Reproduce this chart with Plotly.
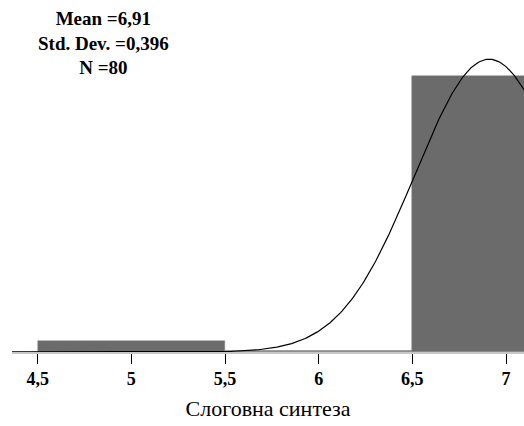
import numpy as np
import plotly.graph_objects as go

# Data
bin_starts = [4.5, 5.5, 6.5]
bin_width = 1.0
counts = [3, 0, 76]
mean_val = 6.91
std_val = 0.396
n_val = 80
tick_vals = [4.5, 5, 5.5, 6, 6.5, 7]
tick_text = ["4,5", "5", "5,5", "6", "6,5", "7"]
x_title = "Слоговна синтеза"

BAR = "#6b6b6b"
FONT = "Liberation Serif"

fig = go.Figure()

centers = [s + bin_width / 2 for s in bin_starts]
fig.add_trace(go.Bar(
    x=centers, y=counts, width=[bin_width] * len(counts),
    marker=dict(color=BAR, line=dict(color="#808080", width=0.5)),
    hoverinfo="skip", showlegend=False,
))

# zero-height bins drawn as a flat outline on the baseline
for s, c in zip(bin_starts, counts):
    if c == 0:
        fig.add_trace(go.Scatter(
            x=[s, s + bin_width], y=[0.3, 0.3], mode="lines",
            line=dict(color="#808080", width=1.5),
            hoverinfo="skip", showlegend=False,
        ))

xs = np.linspace(4.3, 7.2, 400)
ys = n_val * bin_width / (std_val * np.sqrt(2 * np.pi)) * np.exp(-0.5 * ((xs - mean_val) / std_val) ** 2)
fig.add_trace(go.Scatter(
    x=xs, y=ys, mode="lines", line=dict(color="black", width=1.2),
    hoverinfo="skip", showlegend=False,
))

fig.add_annotation(
    xref="paper", yref="paper", x=(103 - 12) / 512, y=1,
    xanchor="center", yanchor="top", yshift=-6,
    text=f"<b>Mean ={str(mean_val).replace('.', ',')}<br>Std. Dev. ={str(std_val).replace('.', ',')}<br>N ={n_val}</b>",
    showarrow=False, align="center",
    font=dict(family=FONT, size=19, color="black"),
)

fig.update_layout(
    width=524, height=426,
    margin=dict(l=12, r=0, t=0, b=74),
    paper_bgcolor="white", plot_bgcolor="white",
    bargap=0,
    xaxis=dict(
        range=[4.363, 7.096], tickvals=tick_vals,
        ticktext=[f"<b>{t}</b>" for t in tick_text],
        ticks="outside", ticklen=10, tickwidth=1, tickcolor="black",
        showline=True, linecolor="#c8c8c8", linewidth=1.5,
        showgrid=False, zeroline=False,
        tickfont=dict(family=FONT, size=18, color="black"),
        title=dict(text=x_title, font=dict(family=FONT, size=22, color="black"), standoff=12),
    ),
    yaxis=dict(range=[0, 96.9], visible=False, showgrid=False, zeroline=False),
)

fig.write_html("out.html")
